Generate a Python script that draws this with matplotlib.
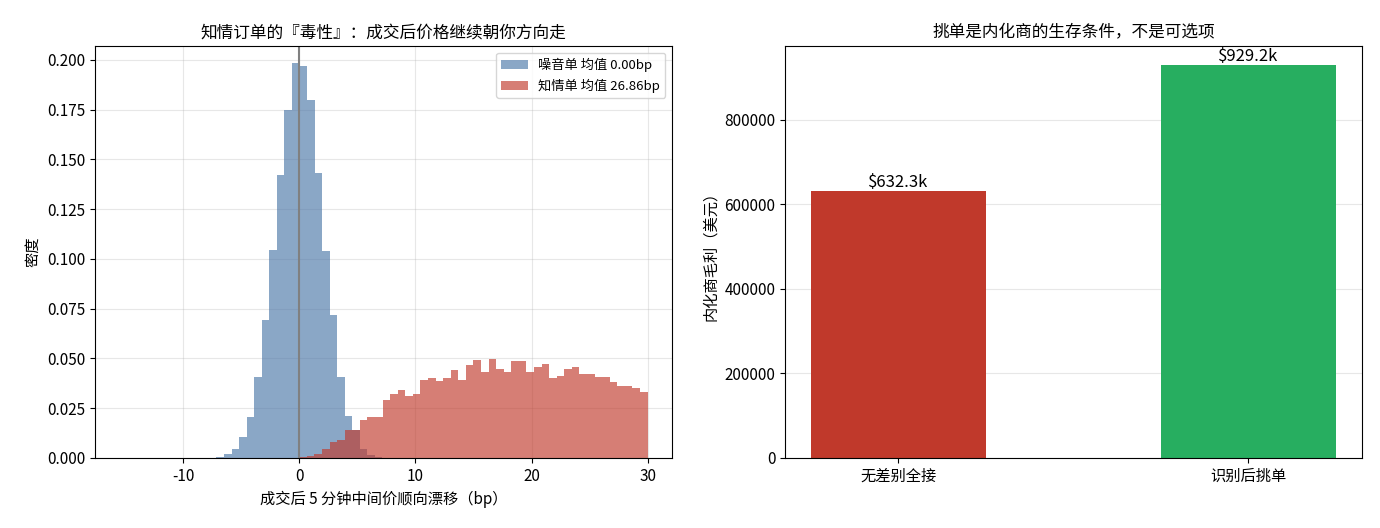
import numpy as np
import matplotlib
matplotlib.use("Agg")
import matplotlib.pyplot as plt

plt.rcParams['font.family'] = ['Noto Sans CJK SC', 'DejaVu Sans']
plt.rcParams['axes.unicode_minus'] = False

noise_start = -7.14
noise_width = 0.65
noise_density = [0.0005, 0.002, 0.0045, 0.0106, 0.0208, 0.0405, 0.0693, 0.1047, 0.1424, 0.1748,
                 0.1985, 0.197, 0.180, 0.1432, 0.1039, 0.0718, 0.0405, 0.021, 0.014, 0.0047, 0.0014, 0.0005]
inf_lo, inf_hi = 0.0, 30.0
inf_density = [0.0005, 0.0008, 0.002, 0.0047, 0.008, 0.009, 0.014, 0.014, 0.019, 0.0204, 0.0204,
               0.029, 0.032, 0.034, 0.031, 0.032, 0.039, 0.040, 0.0385, 0.040, 0.0444, 0.039, 0.0465,
               0.049, 0.043, 0.0495, 0.0448, 0.043, 0.0485, 0.0485, 0.043, 0.0456, 0.047, 0.040, 0.041,
               0.0448, 0.0458, 0.042, 0.0424, 0.0407, 0.0407, 0.038, 0.036, 0.036, 0.035, 0.0334]
legend_labels = ['噪音单 均值 0.00bp', '知情单 均值 26.86bp']
bar_cats = ['无差别全接', '识别后挑单']
bar_vals = [632300, 929200]
bar_texts = ['$632.3k', '$929.2k']

fig = plt.figure(figsize=(13.8, 5.28), dpi=100)
ax1 = fig.add_axes([95/1380, 1-458/528, 577/1380, 412/528])
ax2 = fig.add_axes([785/1380, 1-458/528, 577/1380, 412/528])

ne = noise_start + noise_width*np.arange(len(noise_density))
ax1.bar(ne, noise_density, width=noise_width, align='edge', color='#4C78A8', alpha=0.65,
        label=legend_labels[0], linewidth=0)
ie = np.linspace(inf_lo, inf_hi, len(inf_density)+1)
ax1.bar(ie[:-1], inf_density, width=ie[1]-ie[0], align='edge', color='#C0392B', alpha=0.65,
        label=legend_labels[1], linewidth=0)
ax1.axvline(0, color='gray', lw=1.5)
ax1.set_xlim(-17.6, 32.1)
ax1.set_ylim(0, 0.207)
ax1.set_xticks([-10, 0, 10, 20, 30])
ax1.grid(alpha=0.3)
ax1.set_axisbelow(True)
ax1.set_title('知情订单的『毒性』：成交后价格继续朝你方向走', fontsize=12)
ax1.set_xlabel('成交后 5 分钟中间价顺向漂移（bp）', fontsize=11)
ax1.set_ylabel('密度', fontsize=11)
ax1.legend(loc='upper right', fontsize=9.5)

x = np.arange(len(bar_cats))
ax2.bar(x, bar_vals, width=0.5, color=['#C0392B', '#27AE60'])
for xi, v, t in zip(x, bar_vals, bar_texts):
    ax2.text(xi, v, t, ha='center', va='bottom', fontsize=12)
ax2.set_xticks(x)
ax2.set_xticklabels(bar_cats, fontsize=11)
ax2.set_xlim(-0.323, 1.325)
ax2.set_ylim(0, 975000)
ax2.set_yticks([0, 200000, 400000, 600000, 800000])
ax2.yaxis.grid(alpha=0.3)
ax2.set_axisbelow(True)
ax2.set_title('挑单是内化商的生存条件，不是可选项', fontsize=12)
ax2.set_ylabel('内化商毛利（美元）', fontsize=11)
for a in (ax1, ax2):
    a.tick_params(labelsize=11)

fig.savefig('out.png', dpi=100)
